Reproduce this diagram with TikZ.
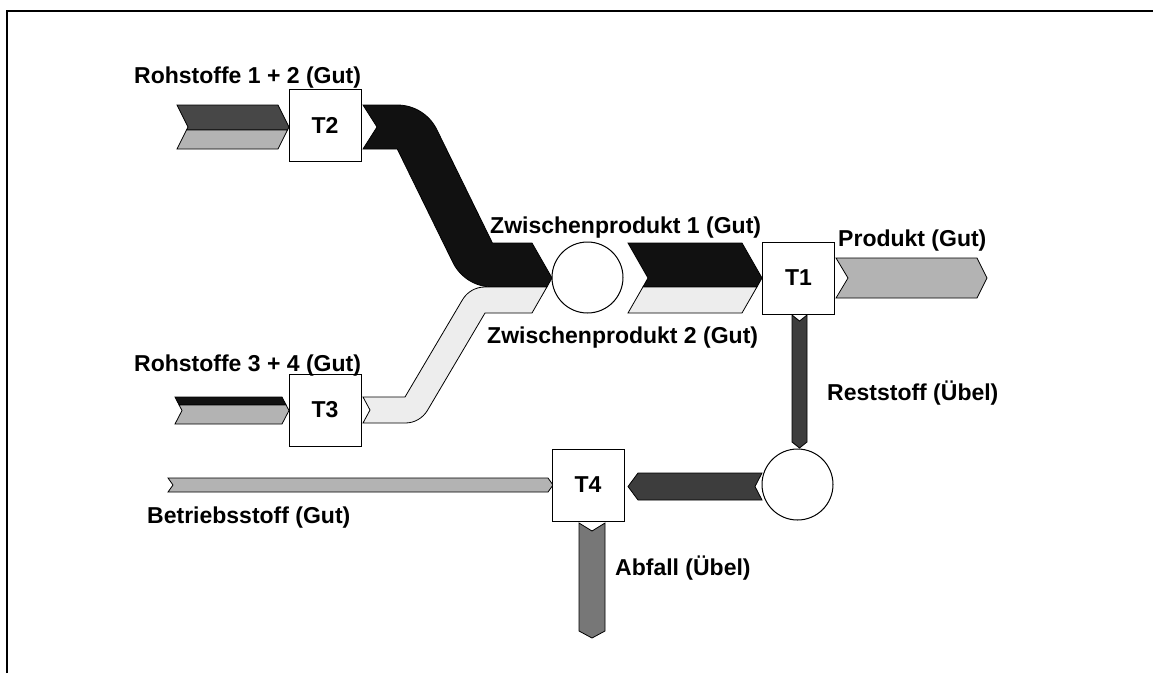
\documentclass[tikz,border=0pt]{standalone}
\usepackage{fontspec}
\setmainfont{Liberation Sans}
\definecolor{darkA}{HTML}{474747}
\definecolor{grayA}{HTML}{B3B3B3}
\definecolor{blackA}{HTML}{111111}
\definecolor{lightA}{HTML}{EDEDED}
\definecolor{restA}{HTML}{3D3D3D}
\definecolor{abfallA}{HTML}{777777}
\begin{document}
\begin{tikzpicture}[x=1pt,y=-1pt,
  flow/.style={draw=black,line width=0.8pt,line join=miter},
  box/.style={draw=black,line width=1pt,fill=white,minimum size=72pt,inner sep=0pt,
    font=\fontsize{23}{26}\selectfont\bfseries},
  circ/.style={circle,draw=black,line width=1pt,fill=white,minimum size=71pt,inner sep=0pt},
  lab/.style={anchor=base west,inner sep=0pt,font=\fontsize{23}{26}\selectfont\bfseries}]
\useasboundingbox (0,0) rectangle (1153,673);
\fill[white] (0,0) rectangle (1153,673);
\draw[line width=2.3pt] (7,673) -- (7,11) -- (1153,11);

% input to T2
\draw[flow,fill=darkA] (177,105) -- (278,105) -- (289,127) -- (287.5,130) -- (186.5,130) -- (188,127) -- cycle;
\draw[flow,fill=grayA] (186.5,130) -- (287.5,130) -- (278,149) -- (177,149) -- cycle;
% input to T3
\draw[flow,fill=blackA] (175,397) -- (282,397) -- (286.1,405) -- (179.1,405) -- cycle;
\draw[flow,fill=grayA] (179.1,405) -- (286.1,405) -- (289,410.5) -- (282,424) -- (175,424) -- (182,410.5) -- cycle;
% T2 -> C1 (black band)
\draw[flow,fill=blackA] (363,105) -- (397.3,105) .. controls (414.1,105) and (429.4,114.5) .. (436.8,129.6)
  -- (492.4,243) -- (532,243) -- (552,278) -- (546.9,287) -- (492.4,287)
  .. controls (475.6,287) and (460.3,277.5) .. (452.9,262.4) -- (397.3,149) -- (363,149) -- (377,127) -- cycle;
% T3 -> C1 (light band)
\draw[flow,fill=lightA] (363,397) -- (405,397) -- (462.5,299.7) .. controls (467.2,291.8) and (475.6,287) .. (484.8,287)
  -- (546.9,287) -- (532,313) -- (485,313) -- (427.5,410.3) .. controls (422.8,418.2) and (414.4,423) .. (405.2,423)
  -- (363,423) -- (370,410) -- cycle;
% C1 -> T1
\draw[flow,fill=blackA] (628,243) -- (742,243) -- (762,278) -- (756.9,287) -- (642.9,287) -- (648,278) -- cycle;
\draw[flow,fill=lightA] (642.9,287) -- (756.9,287) -- (742,313) -- (628,313) -- cycle;
% Produkt
\draw[flow,fill=grayA] (836,258) -- (977,258) -- (987,278) -- (977,298) -- (836,298) -- (848,278) -- cycle;
% Reststoff
\draw[flow,fill=restA] (792,315) -- (799.5,321) -- (807,315) -- (807,442) -- (799.5,448) -- (792,442) -- cycle;
% C2 -> T4
\draw[flow,fill=restA] (762,473) -- (638,473) -- (628,486.5) -- (638,500) -- (762,500) -- (755,486.5) -- cycle;
% Betriebsstoff
\draw[flow,fill=grayA] (168,478) -- (548,478) -- (553,485) -- (548,492) -- (168,492) -- (173,485) -- cycle;
% Abfall
\draw[flow,fill=abfallA] (579,523) -- (592,531) -- (605,523) -- (605,631) -- (592,638) -- (579,631) -- cycle;

\node[box] (T2) at (325,125) {T2};
\node[box] (T3) at (325,410) {T3};
\node[box] (T1) at (798.5,278) {T1};
\node[box] (T4) at (588,485) {T4};
\node[circ] (C1) at (587.5,277.5) {};
\node[circ] (C2) at (797.5,484.5) {};

\node[lab] (l1) at (134,83) {Rohstoffe 1 + 2 (Gut)};
\node[lab] (l2) at (134,371.5) {Rohstoffe 3 + 4 (Gut)};
\node[lab] (l3) at (490,233) {Zwischenprodukt 1 (Gut)};
\node[lab] (l4) at (487,343) {Zwischenprodukt 2 (Gut)};
\node[lab] (l5) at (838,246) {Produkt (Gut)};
\node[lab] (l6) at (827,400) {Reststoff (Übel)};
\node[lab] (l7) at (147,523) {Betriebsstoff (Gut)};
\node[lab] (l8) at (615,575) {Abfall (Übel)};
\end{tikzpicture}
\end{document}
